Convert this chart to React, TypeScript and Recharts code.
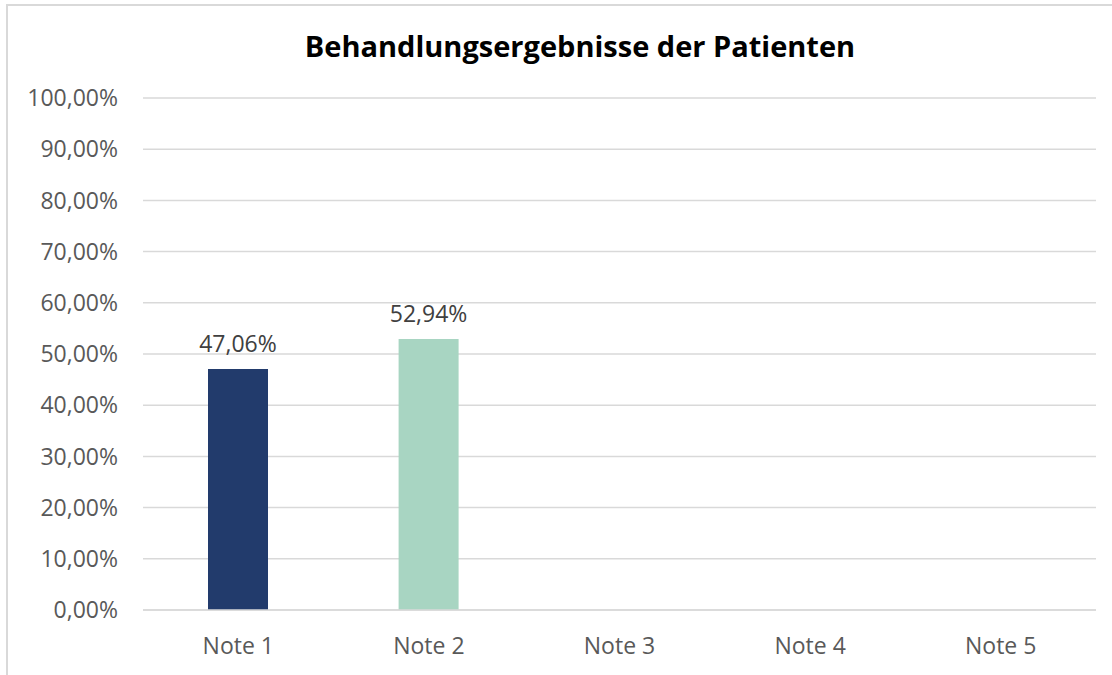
import React from "react";
import { BarChart, Bar, XAxis, YAxis, CartesianGrid, LabelList, Cell } from "recharts";

const categories = ["Note 1", "Note 2", "Note 3", "Note 4", "Note 5"];
const shares: (number | null)[] = [47.06, 52.94, null, null, null];
const barColors = ["#223B6C", "#A8D5C2", "#223B6C", "#A8D5C2", "#223B6C"];
const yTicks = [0, 10, 20, 30, 40, 50, 60, 70, 80, 90, 100];
const title = "Behandlungsergebnisse der Patienten";

const data = categories.map((c, i) => ({ name: c, value: shares[i] }));
const fmt = (v: any) => (v == null ? "" : Number(v).toFixed(2).replace(".", ",") + "%");

const FONT = "'Open Sans', 'Noto Sans', sans-serif";

export default function App() {
  return (
    <div style={{ position: "fixed", left: 0, top: 0, width: 1112, height: 675, background: "#fff", overflow: "hidden", fontFamily: FONT }}>
      <div style={{ position: "absolute", left: 6, top: 4, width: 1160, height: 700, border: "2px solid #d9d9d9", boxSizing: "border-box" }} />
      <div style={{ position: "absolute", left: 230, width: 700, top: 26, textAlign: "center", fontSize: 29, fontWeight: 700, color: "#000", lineHeight: "40px" }}>
        {title}
      </div>
      <div style={{ position: "absolute", left: 0, top: 0 }}>
        <BarChart width={1112} height={675} data={data} margin={{ top: 98, right: 16, bottom: 0, left: 0 }} barCategoryGap="34%">
          <CartesianGrid vertical={false} stroke="#d9d9d9" strokeWidth={1.5} />
          <XAxis
            dataKey="name"
            height={65}
            tickLine={false}
            axisLine={{ stroke: "#d9d9d9", strokeWidth: 1.5 }}
            tickSize={0}
            tickMargin={28}
            tick={{ fill: "#595959", fontSize: 23, fontFamily: FONT }}
          />
          <YAxis
            width={143}
            domain={[0, 100]}
            ticks={yTicks}
            interval={0}
            tickFormatter={fmt}
            axisLine={false}
            tickLine={false}
            tickSize={0}
            tickMargin={25}
            tick={{ fill: "#595959", fontSize: 23, fontFamily: FONT }}
          />
          <Bar dataKey="value" barSize={60} isAnimationActive={false}>
            {data.map((d, i) => (
              <Cell key={d.name} fill={barColors[i]} />
            ))}
            <LabelList dataKey="value" position="top" offset={17} formatter={fmt} fill="#404040" fontSize={23} fontFamily={FONT} />
          </Bar>
        </BarChart>
      </div>
    </div>
  );
}
